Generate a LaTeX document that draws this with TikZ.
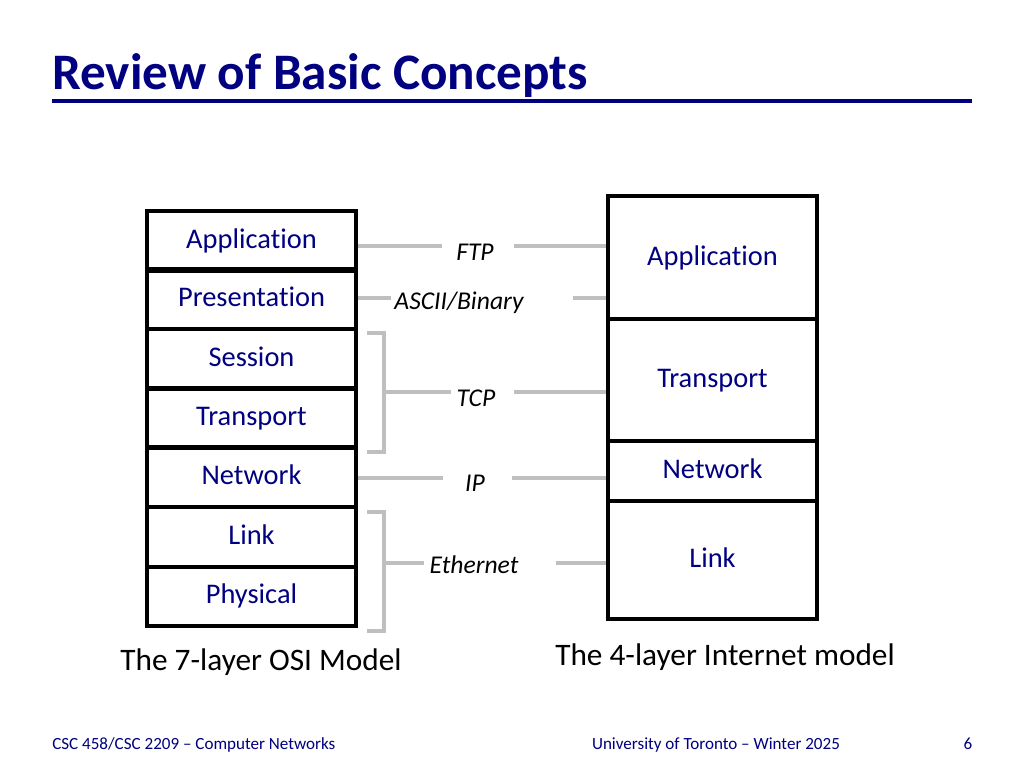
\documentclass[tikz,border=0pt]{standalone}
\usepackage{fontspec}
\setmainfont[Ligatures={TeX,NoCommon}]{Carlito}
\usepackage{tikz}
\definecolor{navy}{RGB}{0,0,128}
\definecolor{wiregray}{RGB}{191,191,191}

\begin{document}
\begin{tikzpicture}[x=0.703125pt, y=-0.703125pt,
    osi/.style={draw, line width=2.8pt, minimum width=147pt, minimum height=41.5pt,
      inner sep=0pt, text=navy, text height=15pt, text depth=3.8pt,
      font=\fontsize{20}{24}\selectfont},
    inet/.style={osi},
    proto/.style={inner sep=0pt, font=\fontsize{18}{22}\selectfont\itshape},
    wire/.style={draw=wiregray, line width=3pt}]
        \useasboundingbox[fill=white] (0,0) rectangle (1024,768);
        % title
        \node[anchor=base west, inner sep=0pt, text=navy, font=\fontsize{36}{40}\selectfont\bfseries] (title) at (52,90) {Review of Basic Concepts};
        \draw[navy, line width=2.8pt] (52,101) -- (972,101);
        % OSI stack
        \node[osi] (app) at (251.5,241) {Application};
        \node[osi] (pres) at (251.5,299) {Presentation};
        \node[osi] (sess) at (251.5,359) {Session};
        \node[osi] (trans) at (251.5,418) {Transport};
        \node[osi] (net) at (251.5,477) {Network};
        \node[osi] (link) at (251.5,537) {Link};
        \node[osi] (phys) at (251.5,596) {Physical};
        % Internet stack
        \node[inet, minimum height=86.5pt] (iapp) at (712.5,257.5) {Application};
        \node[inet, minimum height=85.8pt] (itrans) at (712.5,380) {Transport};
        \node[inet, minimum height=42.2pt] (inet) at (712.5,471) {Network};
        \node[inet, minimum height=83pt] (ilink) at (712.5,560) {Link};
        % protocols
        \node[proto] (ftp) at (475,252) {FTP};
        \node[proto] (ascii) at (459,303) {ASCII/Binary};
        \node[proto] (tcp) at (476,398) {TCP};
        \node[proto] (ip) at (475,483) {IP};
        \node[proto] (eth) at (474,565) {Ethernet};
        \coordinate (ftpy) at (0,246);
        \coordinate (asciiy) at (0,298);
        \coordinate (ipy) at (0,478);
        \coordinate (tcpbr) at (384,392);
        \coordinate (ethbr) at (384,563);
        \draw[wire] (app.east |- ftpy) -- ([xshift=-9.8pt]ftp.west |- ftpy);
        \draw[wire] ([xshift=14pt]ftp.east |- ftpy) -- (iapp.west |- ftpy);
        \draw[wire] (pres.east |- asciiy) -- ([xshift=-2pt]ascii.west |- asciiy);
        \draw[wire] ([xshift=34.5pt]ascii.east |- asciiy) -- (iapp.west |- asciiy);
        \draw[wire] (367,333) -| (tcpbr) |- (367,452);
        \draw[wire] (tcpbr) -- ([xshift=-3.5pt]tcp.west |- tcpbr);
        \draw[wire] ([xshift=12.7pt]tcp.east |- tcpbr) -- (itrans.west |- tcpbr);
        \draw[wire] (net.east |- ipy) -- ([xshift=-15.5pt]ip.west |- ipy);
        \draw[wire] ([xshift=19pt]ip.east |- ipy) -- (inet.west |- ipy);
        \draw[wire] (367,512) -| (ethbr) |- (367,631);
        \draw[wire] (ethbr) -- ([xshift=-3.5pt]eth.west |- ethbr);
        \draw[wire] ([xshift=26pt]eth.east |- ethbr) -- (ilink.west |- ethbr);
        % captions
        \node[anchor=base, inner sep=0pt, font=\fontsize{22}{26}\selectfont] (osicap) at (261,670) {The 7-layer OSI Model};
        \node[anchor=base, inner sep=0pt, font=\fontsize{22}{26}\selectfont] (inetcap) at (725,665) {The 4-layer Internet model};
        % footer
        \node[anchor=base west, inner sep=0pt, text=navy, font=\fontsize{12}{14}\selectfont] (course) at (52,749) {CSC 458/CSC 2209 -- Computer Networks};
        \node[anchor=base, inner sep=0pt, text=navy, font=\fontsize{12}{14}\selectfont] (uoft) at (716,749) {University of Toronto -- Winter 2025};
        \node[anchor=base, inner sep=0pt, text=navy, font=\fontsize{12}{14}\selectfont] (page) at (968,749) {6};
      \end{tikzpicture}
\end{document}
